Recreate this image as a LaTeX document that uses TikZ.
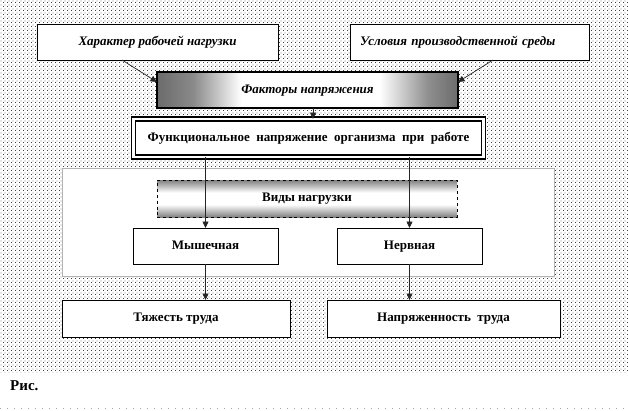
\documentclass[tikz,border=0pt]{standalone}
\usepackage{fontspec}
\setmainfont{Liberation Serif}
\usetikzlibrary{arrows.meta,patterns,calc}
\pgfdeclarepatternformonly{bgdots}{\pgfpointorigin}{\pgfpoint{4bp}{4bp}}{\pgfpoint{4bp}{4bp}}{%
  \pgfpathrectangle{\pgfpoint{0bp}{0bp}}{\pgfpoint{1bp}{1bp}}%
  \pgfpathrectangle{\pgfpoint{2bp}{2bp}}{\pgfpoint{1bp}{1bp}}%
  \pgfusepath{fill}}
\pgfdeclarehorizontalshading{facshade}{100bp}{color(0bp)=(black!58); color(25bp)=(black!58); color(31bp)=(black!46); color(39bp)=(white); color(62bp)=(white); color(70bp)=(black!44); color(75bp)=(black!58); color(100bp)=(black!58)}
\pgfdeclareverticalshading{vidshade}{100bp}{color(0bp)=(black!50); color(25bp)=(black!50); color(42bp)=(white); color(58bp)=(white); color(75bp)=(black!50); color(100bp)=(black!50)}
\tikzset{
  box/.style={draw=black, line width=0.8bp, fill=white, inner sep=0pt, outer sep=0pt, align=center,
    text height=9bp, text depth=3bp,
    font=\fontsize{13bp}{15bp}\selectfont\bfseries},
  itbox/.style={box, font=\fontsize{13bp}{15bp}\selectfont\bfseries\itshape},
  conn/.style={draw=black!85, line width=0.7bp, -{Triangle[length=6.5bp,width=6bp]}},
}
\begin{document}
\begin{tikzpicture}[x=1bp, y=-1bp]
\useasboundingbox (0,0) rectangle (628,410);
\fill[white] (0,0) rectangle (628,410);
\fill[pattern=bgdots, pattern color=black!75] (0,0) rectangle (628,372);
\draw[black!35, line width=0.8bp, dash pattern=on 1bp off 6bp] (0,408) -- (628,408);
\node[anchor=west, inner sep=0pt, font=\fontsize{15bp}{17bp}\selectfont\bfseries] (ris) at (10,386) {Рис.};

% panel
\node[draw=black!30, line width=0.8bp, fill=white, minimum width=492bp, minimum height=108bp, inner sep=0pt] (panel) at (308,222) {};

% top boxes
\node[itbox, minimum width=241bp, minimum height=36bp] (k1) at (157.5,42) {Характер рабочей нагрузки};
\node[itbox, minimum height=36bp, text width=219bp, inner xsep=10bp, align=left] (k2) at (469.5,42) {Условия производственной среды};

% factors
\node[itbox, line width=2bp, shading=facshade, minimum width=301bp, minimum height=36bp] (fac) at (307.5,90) {Факторы напряжения};

% functional
\node[box, double, double distance=2.5bp, line width=1.4bp, minimum width=350bp, minimum height=38bp] (func) at (308.5,138)
  {Функциональное\ \ напряжение\ \ организма\ \ при\ \ работе};

% types
\node[box, dashed, line width=0.9bp, shading=vidshade, minimum width=300bp, minimum height=37bp] (vid) at (307,198.5) {Виды нагрузки};

\node[box, minimum width=145bp, minimum height=36bp] (mus) at (205.5,246) {Мышечная};
\node[box, minimum width=145bp, minimum height=36bp] (ner) at (409.5,246) {Нервная};

\node[box, minimum width=228bp, minimum height=37bp] (tya) at (176,318.5) {Тяжесть труда};
\node[box, minimum width=233bp, minimum height=37bp] (nap) at (443.5,318.5) {Напряженность\ \ труда};

% connectors
\draw[conn] ([xshift=-35.5bp]k1.south) -- ([yshift=-10bp]fac.north west);
\draw[conn] ([xshift=23.5bp]k2.south) -- ([yshift=-10bp]fac.north east);
\draw[conn] ([xshift=5.5bp]fac.south) -- ([xshift=5.5bp]fac.south |- func.north);
\draw[conn] (func.south -| mus.north) -- (mus.north);
\draw[conn] (func.south -| ner.north) -- (ner.north);
\draw[conn] (mus.south) -- (mus.south |- tya.north);
\draw[conn] (ner.south) -- (ner.south |- nap.north);
\end{tikzpicture}
\end{document}
